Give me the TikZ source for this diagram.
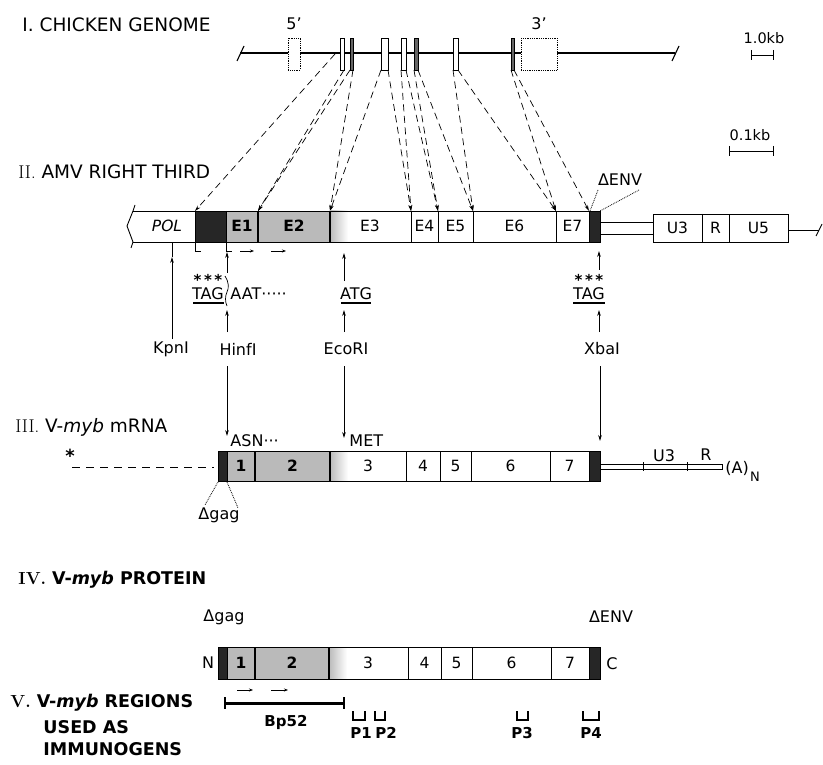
\documentclass[tikz,border=0pt]{standalone}
\usepackage{fontspec}
\setsansfont{DejaVu Sans}
\usetikzlibrary{arrows.meta}
\begin{document}
\begin{tikzpicture}[x=1pt,y=-1pt,line width=0.9pt,
  title/.style={font=\sffamily\fontsize{18.5}{22}\selectfont,anchor=west,inner sep=0pt},
  titleb/.style={font=\sffamily\bfseries\fontsize{17.5}{21}\selectfont,anchor=west,inner sep=0pt},
  lbl/.style={font=\sffamily\fontsize{16}{18}\selectfont,inner sep=0pt},
  sml/.style={font=\sffamily\fontsize{14.5}{17}\selectfont,inner sep=0pt},
  lblb/.style={font=\sffamily\bfseries\fontsize{15}{18}\selectfont,inner sep=0pt},
  seg/.style={font=\sffamily\fontsize{15.5}{18}\selectfont,inner sep=0pt},
  segb/.style={font=\sffamily\bfseries\fontsize{15.5}{18}\selectfont,inner sep=0pt},
  ast/.style={font=\sffamily\bfseries\fontsize{15}{18}\selectfont,inner sep=0pt},
  blk/.style={fill=black!85},
  stip/.style={fill=black!27},
  dl/.style={dash pattern=on 7pt off 4.5pt,line width=0.7pt,-{Stealth[length=6pt,width=3.5pt]}},
  tip/.style={-{Stealth[length=6pt,width=3.6pt]}},
  smtip/.style={-{Stealth[length=4pt,width=3pt]},line width=0.7pt},
  dots/.style={densely dotted,line width=0.8pt}]
\useasboundingbox (0,0) rectangle (823,765);

% ---------------- titles
\node[title] (t1) at (22,25) {I. CHICKEN GENOME};
\node[title] (t2) at (18,172) {{\rmfamily II.} AMV RIGHT THIRD};
\node[title] (t3) at (15,427) {{\rmfamily III.} V-\textit{myb} mRNA};
\node[titleb] (t4) at (18,580) {{\rmfamily\bfseries IV.} V-\textit{myb} PROTEIN};
\node[titleb] (t5a) at (10,703) {{\rmfamily\bfseries V.} V-\textit{myb} REGIONS};
\node[titleb] (t5b) at (43,727) {USED AS};
\node[titleb] (t5c) at (43,749) {IMMUNOGENS};

% ---------------- I. chicken genome
\draw[line width=1.2pt] (240,53) -- (288,53) (300,53) -- (521,53) (557,53) -- (675,53);
\draw[line width=1.1pt] (237,61) -- (244,46) (672,61) -- (679,46);
\draw[dots] (288,38) rectangle (300,70);
\draw[dots] (521,38) rectangle (557,70);
\node[lbl] (p5) at (294,24) {5'};
\node[lbl] (p3) at (539,24) {3'};
\foreach \a/\b in {340/344,381/388,401/406,453/458}
  \draw[fill=white,line width=0.9pt] (\a,38) rectangle (\b,70);
\foreach \a/\b in {350/353,414/418,511/514}
  \draw[fill=black!60,line width=0.9pt] (\a,38) rectangle (\b,70);
\node[sml] (kb1) at (764,38) {1.0kb};
\draw (751,55) -- (773,55) (751,50) -- (751,60) (773,50) -- (773,60);

% genome points
\coordinate (g0) at (335,54);
\coordinate (aR) at (344,70);
\coordinate (bL) at (350,70);
\coordinate (bR) at (353,70);
\coordinate (cL) at (381,70);
\coordinate (cR) at (388,70);
\coordinate (dL) at (401,70);
\coordinate (dR) at (406,70);
\coordinate (eL) at (414,70);
\coordinate (eR) at (418,70);
\coordinate (fL) at (453,70);
\coordinate (fR) at (458,70);
\coordinate (gL) at (511,70);
\coordinate (gR) at (514,70);
\foreach \n in {195,258,330,411,438,473,556,589}
  \coordinate (s\n) at (\n,211);
\draw[dl] (g0) -- (s195);
\draw[dl] (aR) -- (s258);
\draw[dl] (bL) -- (s258);
\draw[dl] (bR) -- (s330);
\draw[dl] (cL) -- (s330);
\draw[dl] (cR) -- (s411);
\draw[dl] (dL) -- (s411);
\draw[dl] (dR) -- (s438);
\draw[dl] (eL) -- (s438);
\draw[dl] (eR) -- (s473);
\draw[dl] (fL) -- (s473);
\draw[dl] (fR) -- (s556);
\draw[dl] (gL) -- (s556);
\draw[dl] (gR) -- (s589);

% ---------------- II. AMV right third
\node[sml] (kb2) at (750,135) {0.1kb};
\draw (729,151) -- (773,151) (729,146) -- (729,156) (773,146) -- (773,156);

\fill[blk] (195,211) rectangle (226,242);
\fill[stip] (226,211) rectangle (330,242);
\shade[left color=black!27,right color=white] (330,211) rectangle (348,242);
\fill[blk] (589,211) rectangle (600,242);
\draw (133,211) -- (600,211) -- (600,242) -- (133,242);
\draw (135,205) -- (133,211) -- (127,226) -- (133,242) -- (131,248);
\foreach \x in {195,226,411,438,473,556,589} \draw (\x,211) -- (\x,242);
\draw[line width=1.6pt] (258,211) -- (258,242) (330,211) -- (330,242);
\node[seg,font=\sffamily\itshape\fontsize{15.5}{18}\selectfont] (pol) at (167,226) {POL};
\node[segb] (e1) at (242,226) {E1};
\node[segb] (e2) at (294,226) {E2};
\node[seg] (e3) at (370,226) {E3};
\node[seg] (e4) at (424.5,226) {E4};
\node[seg] (e5) at (455.5,226) {E5};
\node[seg] (e6) at (514.5,226) {E6};
\node[seg] (e7) at (572.5,226) {E7};
\draw (600,222) -- (653,222) (600,234) -- (653,234);
\draw (653,214) rectangle (788,242);
\draw (702,214) -- (702,242) (729,214) -- (729,242);
\node[seg] (u3) at (677.5,228) {U3};
\node[seg] (r) at (715.5,228) {R};
\node[seg] (u5) at (758.5,228) {U5};
\draw (788,230) -- (819,230);
\draw (816,236) -- (822,224);
\node[lbl] (denv) at (620,180) {ΔENV};
\draw[dots] (598,190) -- (590,211);
\draw[dots] (639,190) -- (600,211);

% brackets and arrows under box
\draw[line width=0.8pt] (195,243) -- (195,251) -- (201,251);
\draw[line width=0.8pt] (226,243) -- (226,251) -- (232,251);
\draw[smtip] (240,251) -- (254,251);
\draw[smtip] (271,251) -- (286,251);

% sequence labels
\node[ast] (st1) at (208,280) {*\,*\,*};
\node[lbl] (tag1) at (208,294) {TAG};
\draw[line width=1.2pt] (193,303) -- (224,303);
\node[lbl,anchor=west] (aat) at (230,294) {AAT·····};
\draw[line width=0.7pt] (225,276) .. controls (229,282) and (229,288) .. (227,292) .. controls (225,296) and (225,302) .. (227,306);
\node[lbl] (atg) at (356,294) {ATG};
\draw[line width=1.2pt] (341,303) -- (371,303);
\node[ast] (st2) at (589,280) {*\,*\,*};
\node[lbl] (tag2) at (589,294) {TAG};
\draw[line width=1.2pt] (573,303) -- (605,303);

\node[lbl] (kpn) at (171,349) {KpnI};
\node[lbl] (hinf) at (238,349) {HinfI};
\node[lbl] (eco) at (346,349) {EcoRI};
\node[lbl] (xba) at (602,349) {XbaI};

\coordinate (k1) at (172,257);
\draw[tip] (172,339) -- (k1);
\draw (k1) -- (172,243);
\draw[tip] (227,332) -- (227,310);
\draw[tip] (344,332) -- (344,310);
\draw[tip] (599,332) -- (599,310);
\draw[tip] (227,273) -- (227,252);
\draw[tip] (344,281) -- (344,253);
\draw[tip] (599,270) -- (599,251);

% long arrows to mRNA
\draw[tip] (227,366) -- (227,436);
\draw[tip] (344,366) -- (344,438);
\draw[tip] (600,366) -- (600,441);

% ---------------- III. mRNA
\node[ast,font=\sffamily\bfseries\fontsize{18}{20}\selectfont] (star) at (70,456) {*};
\draw[dash pattern=on 8pt off 6pt,line width=1pt] (72,467) -- (214,467);
\fill[blk] (218,451) rectangle (227,481);
\fill[stip] (227,451) rectangle (330,481);
\shade[left color=black!27,right color=white] (330,451) rectangle (348,481);
\fill[blk] (589,451) rectangle (600,481);
\draw (218,451) rectangle (600,481);
\foreach \x in {227,406,440,471,550,589} \draw (\x,451) -- (\x,481);
\draw[line width=1.6pt] (255,451) -- (255,481) (330,451) -- (330,481);
\node[segb] (m1) at (241,466) {1};
\node[segb] (m2) at (292.5,466) {2};
\node[seg] (m3) at (368,466) {3};
\node[seg] (m4) at (423,466) {4};
\node[seg] (m5) at (455.5,466) {5};
\node[seg] (m6) at (510.5,466) {6};
\node[seg] (m7) at (569.5,466) {7};
\node[lbl,anchor=west] (asn) at (230,441) {ASN···};
\node[lbl,anchor=west] (met) at (349,441) {MET};
\draw[line width=0.8pt] (600,464) rectangle (722,469);
\draw[line width=0.8pt] (643,462) -- (643,471) (687,462) -- (687,471);
\node[lbl] (mu3) at (664,456) {U3};
\node[lbl] (mr) at (706,455) {R};
\node[lbl,anchor=west] (polya) at (725,468) {(A)};
\node[lbl,font=\sffamily\fontsize{13}{14}\selectfont] (polyn) at (755,477) {N};
\node[lbl] (dgag1) at (219,515) {Δgag};
\draw[dots] (218,482) -- (205,505);
\draw[dots] (227,482) -- (238,508);

% ---------------- IV. protein
\node[lbl] (dgag2) at (224,617) {Δgag};
\node[lbl] (denv2) at (611,617) {ΔENV};
\fill[blk] (218,647) rectangle (227,679);
\fill[stip] (227,647) rectangle (329,679);
\shade[left color=black!27,right color=white] (329,647) rectangle (347,679);
\fill[blk] (589,647) rectangle (600,679);
\draw (218,647) rectangle (600,679);
\foreach \x in {227,408,441,472,551,589} \draw (\x,647) -- (\x,679);
\draw[line width=1.6pt] (255,647) -- (255,679) (329,647) -- (329,679);
\node[segb] (q1) at (241,663) {1};
\node[segb] (q2) at (292,663) {2};
\node[seg] (q3) at (368,663) {3};
\node[seg] (q4) at (424.5,663) {4};
\node[seg] (q5) at (456.5,663) {5};
\node[seg] (q6) at (511.5,663) {6};
\node[seg] (q7) at (570,663) {7};
\node[lbl] (nterm) at (208,663) {N};
\node[lbl] (cterm) at (612,664) {C};
\draw[smtip] (237,690) -- (253,690);
\draw[smtip] (271,690) -- (288,690);

% ---------------- V. immunogens
\draw[line width=3pt] (225,703) -- (344,703);
\draw[line width=1.2pt] (225,697) -- (225,709) (344,697) -- (344,709);
\node[lblb] (bp) at (286,722) {Bp52};
\foreach \a/\b in {353/365,375/385,517/528,583/599}
  \draw[line width=1.2pt] (\a,711) -- (\a,720) -- (\b,720) -- (\b,711);
\node[lblb] (pp1) at (361,733) {P1};
\node[lblb] (pp2) at (386,733) {P2};
\node[lblb] (pp3) at (522,733) {P3};
\node[lblb] (pp4) at (591,733) {P4};
\end{tikzpicture}
\end{document}
